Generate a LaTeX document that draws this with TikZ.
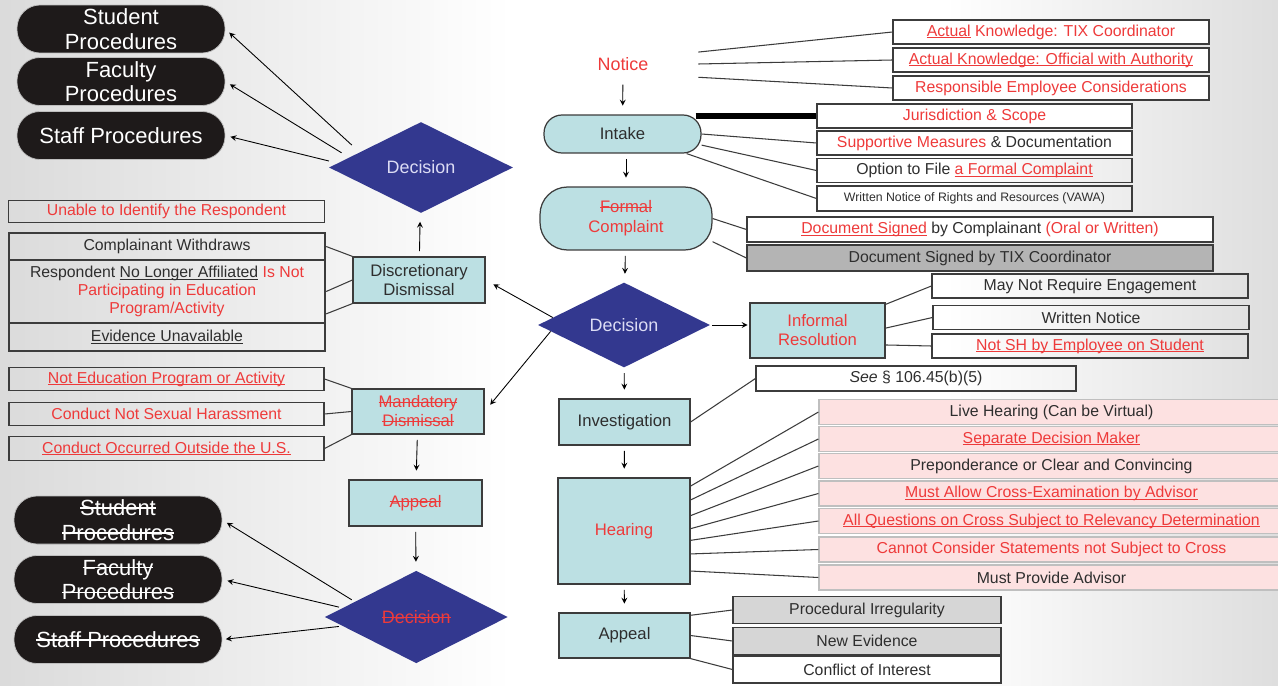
\documentclass[tikz,border=0pt]{standalone}
\usepackage{fontspec}
\setmainfont{Liberation Sans}
\usepackage{tikz}
\usetikzlibrary{shapes.geometric}

\definecolor{redtxt}{HTML}{EE3A3A}
\definecolor{txtgray}{HTML}{2E2E2E}
\definecolor{boxline}{HTML}{3C3C3C}
\definecolor{stepfill}{HTML}{BCE0E3}
\definecolor{decblue}{HTML}{33388F}
\definecolor{dectxt}{HTML}{DCDCF4}
\definecolor{pillblack}{HTML}{1E1A1A}
\definecolor{pinkfill}{HTML}{FDE1E1}
\definecolor{darkfill}{HTML}{B4B4B4}
\definecolor{lightfill}{HTML}{D6D6D6}

\pgfdeclarehorizontalshading{slidebg}{100bp}{color(0bp)=(gray!64); color(45bp)=(white); color(62bp)=(white); color(100bp)=(gray!76)}

% struck-through and underlined text
\newsavebox{\markbox}
\newcommand{\strike}[1]{\sbox{\markbox}{#1}\rlap{\rule[0.3em]{\wd\markbox}{0.07em}}\usebox{\markbox}}
\newcommand{\uln}[1]{\sbox{\markbox}{#1}\rlap{\rule[-0.13em]{\wd\markbox}{0.07em}}\usebox{\markbox}}

\begin{document}
\begin{tikzpicture}[
            x = 0.02cm, y = -0.02cm, % one unit = one pixel of the slide
            > = stealth, % arrow head style
            infobox/.style = {draw=boxline, line width=0.7pt, text=txtgray, align=center, inner sep=0pt,
                font=\fontsize{9}{10.5}\selectfont, minimum height=0.48cm},
            stepbox/.style = {draw=boxline, line width=0.7pt, fill=stepfill, text=txtgray, align=center,
                inner sep=0pt, font=\fontsize{9.5}{10.8}\selectfont},
            pill/.style = {draw=gray!50, thin, fill=pillblack, text=white, align=center, rounded corners=0.46cm,
                minimum width=4.16cm, minimum height=0.96cm, inner sep=0pt, font=\fontsize{12.5}{14}\selectfont},
            choice/.style = {diamond, fill=decblue, text=dectxt, aspect=2, inner sep=0pt,
                font=\fontsize{10.2}{12}\selectfont},
            hearbox/.style = {infobox, draw=gray!50, fill=pinkfill, minimum width=9.3cm, minimum height=0.5cm},
            link/.style = {color=boxline, line width=0.6pt},
            flow/.style = {->, color=black, line width=0.5pt, shorten <=3pt, shorten >=5pt} % step arrows
        ]
\clip (0,0) rectangle (1278,686);
\shade[shading=slidebg] (0,0) rectangle (1278,686);

% main column
\node[font=\fontsize{10.2}{12}\selectfont, text=redtxt, minimum width=3cm, minimum height=0.6cm] (notice) at (623,64) {Notice};
\node[stepbox, rounded corners=0.36cm, minimum width=3.14cm, minimum height=0.76cm] (intake) at (622.5,134) {Intake};
\node[stepbox, rounded corners=0.55cm, minimum width=3.44cm, minimum height=1.26cm, text=redtxt,
      font=\fontsize{9.5}{11.3}\selectfont] (formal) at (626,218.5) {\strike{Formal}\\Complaint};
\node[choice, minimum width=3.44cm, minimum height=1.7cm] (decmain) at (624,325) {Decision};
\node[stepbox, minimum width=2.7cm, minimum height=1.1cm, text=redtxt] (informal) at (817.5,330.5) {Informal\\Resolution};
\node[stepbox, minimum width=2.62cm, minimum height=0.92cm] (invest) at (624.5,422) {Investigation};
\node[stepbox, minimum width=2.64cm, minimum height=2.12cm, text=redtxt] (hearing) at (624,531) {Hearing};
\node[stepbox, minimum width=2.62cm, minimum height=0.9cm] (appeal) at (624.5,635.5) {Appeal};

% notice
\node[infobox, fill=white, minimum width=6.32cm, text=redtxt] (know1) at (1051,32) {\uln{Actual} Knowledge: TIX Coordinator};
\node[infobox, fill=white, minimum width=6.32cm, text=redtxt] (know2) at (1051,60) {\uln{Actual Knowledge: Official with Authority}};
\node[infobox, fill=white, minimum width=6.32cm, text=redtxt] (respemp) at (1051,88) {Responsible Employee Considerations};

% intake
\node[infobox, fill=white, minimum width=6.3cm, text=redtxt] (scope) at (974.5,116) {Jurisdiction \& Scope};
\node[infobox, fill=white, minimum width=6.3cm] (supmeas) at (974.5,143) {{\color{redtxt}Supportive Measures} \& Documentation};
\node[infobox, minimum width=6.3cm] (optfile) at (974.5,170.5) {Option to File {\color{redtxt}\uln{a Formal Complaint}}};
\node[infobox, minimum width=6.3cm, minimum height=0.5cm, font=\fontsize{7}{8}\selectfont] (vawa) at (974.5,198.5) {Written Notice of Rights and Resources (VAWA)};

% formal complaint
\node[infobox, fill=white, minimum width=9.32cm, minimum height=0.5cm] (signcomp) at (980,229.5) {{\color{redtxt}\uln{Document Signed}} by Complainant {\color{redtxt}(Oral or Written)}};
\node[infobox, fill=darkfill, minimum width=9.32cm, minimum height=0.52cm] (signtix) at (980,258) {Document Signed by TIX Coordinator};

% informal resolution
\node[infobox, minimum width=6.32cm] (noengage) at (1090,286) {May Not Require Engagement};
\node[infobox, minimum width=6.32cm] (writnot) at (1091,317.5) {Written Notice};
\node[infobox, minimum width=6.32cm, text=redtxt] (notsh) at (1090,346) {\uln{Not SH by Employee on Student}};

% investigation and hearing
\node[infobox, minimum width=6.4cm, minimum height=0.5cm] (seesec) at (916,378.5) {\textit{See} § 106.45(b)(5)};
\node[hearbox] (live) at (1051.5,412) {Live Hearing (Can be Virtual)};
\node[hearbox, text=redtxt] (sepdm) at (1051.5,439) {\uln{Separate Decision Maker}};
\node[hearbox] (stdev) at (1051.5,466) {Preponderance or Clear and Convincing};
\node[hearbox, text=redtxt] (crossex) at (1051.5,493.5) {\uln{Must Allow Cross-Examination by Advisor}};
\node[hearbox, text=redtxt] (relev) at (1051.5,521) {\uln{All Questions on Cross Subject to Relevancy Determination}};
\node[hearbox, text=redtxt] (nocross) at (1051.5,549.5) {Cannot Consider Statements not Subject to Cross};
\node[hearbox] (advisor) at (1051.5,577.5) {Must Provide Advisor};

% appeal
\node[infobox, fill=lightfill, minimum width=5.36cm, minimum height=0.54cm] (procirr) at (867,610) {Procedural Irregularity};
\node[infobox, fill=lightfill, minimum width=5.36cm, minimum height=0.54cm] (newev) at (867,641) {New Evidence};
\node[infobox, fill=white, minimum width=5.36cm, minimum height=0.54cm] (conflict) at (867,669.5) {Conflict of Interest};

% dismissal column
\node[choice, minimum width=3.68cm, minimum height=1.82cm] (decdism) at (421,167.5) {Decision};
\node[pill] (stud1) at (121,29) {Student\\Procedures};
\node[pill] (fac1) at (121,81.5) {Faculty\\Procedures};
\node[pill] (staff1) at (121,135.5) {Staff Procedures};
\node[infobox, minimum width=6.32cm, minimum height=0.44cm, text=redtxt] (unable) at (166.5,211.5) {Unable to Identify the Respondent};
\node[infobox, line width=1.1pt, minimum width=6.33cm, minimum height=0.54cm] (withdraw) at (167,246.5) {Complainant Withdraws};
\node[infobox, line width=1.1pt, minimum width=6.33cm, minimum height=1.26cm, font=\fontsize{9}{10.2}\selectfont] (noaffil) at (167,291.5)
      {Respondent \uln{No Longer Affiliated} {\color{redtxt}Is Not}\\{\color{redtxt}Participating in Education}\\{\color{redtxt}Program/Activity}};
\node[infobox, line width=1.1pt, minimum width=6.33cm, minimum height=0.56cm] (noevid) at (167,337) {\uln{Evidence Unavailable}};
\node[stepbox, minimum width=2.64cm, minimum height=0.92cm] (discdism) at (419,280) {Discretionary\\Dismissal};

\node[infobox, minimum width=6.3cm, minimum height=0.47cm, text=redtxt] (noedu) at (166.5,379) {\uln{Not Education Program or Activity}};
\node[infobox, minimum width=6.3cm, minimum height=0.47cm, text=redtxt] (nothar) at (166.5,414) {Conduct Not Sexual Harassment};
\node[infobox, minimum width=6.3cm, minimum height=0.47cm, text=redtxt] (outsus) at (166.5,448.5) {\uln{Conduct Occurred Outside the U.S.}};
\node[stepbox, minimum width=2.64cm, minimum height=0.9cm, text=redtxt] (manddism) at (418,411.5) {\strike{Mandatory}\\\strike{Dismissal}};
\node[stepbox, minimum width=2.66cm, minimum height=0.92cm, text=redtxt] (appeal2) at (415.5,503) {\strike{Appeal}};
\node[choice, minimum width=3.66cm, minimum height=1.85cm, text=redtxt] (decmand) at (416.3,617) {\strike{Decision}};
\node[pill] (stud2) at (118,520) {\strike{Student}\\\strike{Procedures}};
\node[pill] (fac2) at (118,579.5) {\strike{Faculty}\\\strike{Procedures}};
\node[pill] (staff2) at (118,639.5) {\strike{Staff Procedures}};

% step arrows
\path [flow] (notice) edge (intake);
\path [flow] (intake.south -| formal) edge (formal.north);
\path [flow] (formal) edge (decmain);
\path [flow] (decmain) edge (invest);
\path [flow] (invest) edge (hearing);
\path [flow] (hearing) edge (appeal);
\path [flow, shorten <=1pt, shorten >=1pt] (decmain.east) edge (decmain.east -| informal.west);
\path [flow, shorten <=0pt] (decmain.174) edge (discdism.east);
\path [flow, shorten <=0pt] (decmain.185) edge (manddism.east);
\path [flow] (discdism) edge (decdism);
\path [flow] (manddism) edge (appeal2);
\path [flow] (appeal2) edge (decmand);
\path [flow, shorten <=6pt, shorten >=3pt] (decdism.166) edge (stud1.east);
\path [flow, shorten <=5pt, shorten >=3pt] (decdism.172) edge (fac1.east);
\path [flow, shorten <=5pt, shorten >=3pt] (decdism.177) edge (staff1.east);
\path [flow, shorten <=2pt, shorten >=3pt] (decmand.166) edge (stud2.east);
\path [flow, shorten <=2pt, shorten >=3pt] (decmand.173) edge (fac2.east);
\path [flow, shorten <=2pt, shorten >=2pt] (decmand.187) edge (staff2.east);

% detail links
\path [link] (notice.9) edge (know1.west);
\path [link] (notice.east) edge (know2.west);
\path [link] (notice.-10) edge (respemp.west);
\draw [line width=3.4pt, black] ([xshift=-3.4pt]intake.north east |- scope.west) -- (scope.west);
\path [link] (intake.east) edge (supmeas.west);
\path [link] (intake.-8) edge (optfile.west);
\path [link] (intake.-17) edge (vawa.west);
\path [link] (formal.east) edge (signcomp.west);
\path [link] (formal.-15) edge (signtix.west);
\path [link] (informal.21) edge (noengage.west);
\path [link] (informal.2) edge (writnot.west);
\path [link] (informal.-12) edge (notsh.west);
\path [link] (invest.east) edge (seesec.west);
\path [link] (hearing.34) edge (live.west);
\path [link] (hearing.25) edge (sepdm.west);
\path [link] (hearing.13) edge (stdev.west);
\path [link] (hearing.2) edge (crossex.west);
\path [link] (hearing.-8) edge (relev.west);
\path [link] (hearing.-19) edge (nocross.west);
\path [link] (hearing.-31) edge (advisor.west);
\path [link] (appeal.17) edge (procirr.west);
\path [link] (appeal.east) edge (newev.west);
\path [link] (appeal.south east) edge (conflict.west);
\path [link] (withdraw.east) edge (discdism.north west);
\path [link] (noaffil.east) edge (discdism.west);
\path [link] (noaffil.-8) edge (discdism.south west);
\path [link] (noedu.east) edge (manddism.north west);
\path [link] (nothar.east) edge (manddism.west);
\path [link] (outsus.east) edge (manddism.south west);
\end{tikzpicture}
\end{document}
